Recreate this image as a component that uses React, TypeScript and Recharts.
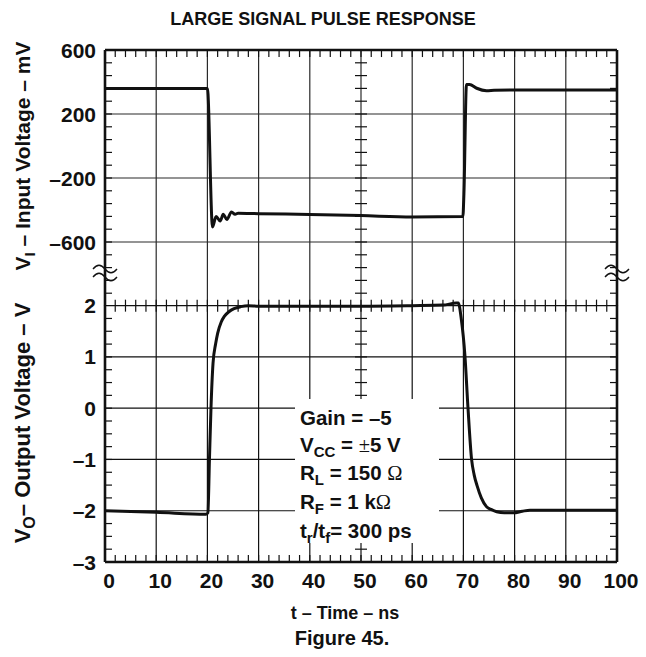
import { LineChart, Line, XAxis, YAxis, ReferenceLine } from 'recharts';

// input pulse (top panel), mV
const inputTime = [0, 20.0, 21.0, 21.7, 22.5, 23.1, 23.8, 24.7, 25.4, 26.0, 30, 40, 50, 60, 69.9, 70.1, 70.6, 71.2, 72.6, 74.5, 76, 80, 90, 100];
const inputMv = [360, 360, -506, -440, -469, -427, -460, -412, -427, -420, -423, -428, -435, -443, -441, -300, 385, 385, 361, 346, 348, 350, 350, 350];

// output pulse (bottom panel), V
const outputTime = [0, 10, 19.7, 20.1, 20.4, 20.7, 21.1, 21.6, 22.0, 22.7, 23.3, 24.2, 25.2, 26.5, 28, 30, 40, 50, 60, 66, 68.6, 69.0, 69.6, 70.3, 70.9, 71.6, 72.1, 72.7, 73.5, 74.5, 75.5, 76.5, 78, 79.8, 81.5, 83, 90, 100];
const outputV = [-2.0, -2.03, -2.07, -2.04, -1.0, 0.0, 0.88, 1.25, 1.46, 1.68, 1.79, 1.88, 1.94, 1.98, 2.0, 1.99, 1.99, 1.99, 2.0, 2.01, 2.05, 2.05, 1.73, 1.02, 0.0, -1.0, -1.3, -1.52, -1.75, -1.92, -1.98, -2.02, -2.04, -2.04, -2.01, -1.99, -1.99, -1.99];

const timeTicks = [0, 10, 20, 30, 40, 50, 60, 70, 80, 90, 100];
const inputTicks = [600, 200, -200, -600];
const outputTicks = [2, 1, 0, -1, -2, -3];

const inputData = inputTime.map((t, i) => ({ t, v: inputMv[i] }));
const outputData = outputTime.map((t, i) => ({ t, v: outputV[i] }));

// minor tick positions
const timeMinor: number[] = [];
for (let k = 1; k < 50; k++) timeMinor.push(k * 2);
const mvMinor: number[] = [];
for (let k = 1; k < 20; k++) mvMinor.push(600 - k * 80);
const vMinor: number[] = [];
for (let k = 1; k < 20; k++) vMinor.push(2 - k * 0.25);

const FONT = '"Liberation Sans", Arial, Helvetica, sans-serif';
const INK = '#111';
const GRID = '#2a2a2a';

// tick lengths in data units (about 7 px)
const T7 = 1.37;
const T6 = 1.17;
const MV7 = 44;
const V7 = 0.137;
const V6 = 0.117;

const dash = (v: number) => (v < 0 ? '\u2013' + Math.abs(v) : String(v));

function YTick({ x, y, payload }: any) {
    return (
        <text x={x} y={y} dy={7.5} textAnchor="end" fontFamily={FONT} fontWeight={700} fontSize={21} fill={INK}>
            {dash(payload.value)}
        </text>
    );
}

function XTick({ x, y, payload }: any) {
    return (
        <text x={x + 4} y={y} dy={14} textAnchor="middle" fontFamily={FONT} fontWeight={700} fontSize={21} fill={INK}>
            {payload.value}
        </text>
    );
}

function seg(key: string, x1: number, y1: number, x2: number, y2: number, w = 1.2) {
    return (
        <ReferenceLine
            key={key}
            segment={[{ x: x1, y: y1 }, { x: x2, y: y2 }]}
            stroke={INK}
            strokeWidth={w}
            ifOverflow="visible"
        />
    );
}

function Sub({ children }: any) {
    return <span style={{ fontSize: 15, position: 'relative', top: 5 }}>{children}</span>;
}

const sym = { fontFamily: '"Liberation Serif", "Times New Roman", serif', fontWeight: 400 };

export default function App() {
    return (
        <div style={{ position: 'absolute', left: 0, top: 0, width: 646, height: 657, background: '#fff' }}>
            <div style={{ position: 'absolute', left: 0, top: 0 }}>
                <LineChart width={646} height={310} data={inputData} margin={{ top: 50, right: 29, bottom: 4, left: 0 }}>
                    <XAxis dataKey="t" type="number" domain={[0, 100]} allowDataOverflow hide />
                    <YAxis
                        type="number"
                        domain={[-1000, 600]}
                        allowDataOverflow
                        ticks={inputTicks}
                        width={105}
                        tickSize={7}
                        tickMargin={2}
                        tickLine={false}
                        axisLine={false}
                        tick={<YTick />}
                        interval={0}
                    />
                    {timeTicks.slice(1, -1).map(t => (
                        <ReferenceLine key={'gx' + t} x={t} stroke={GRID} strokeWidth={1.2} />
                    ))}
                    {[200, -200, -600].map(v => (
                        <ReferenceLine key={'gy' + v} y={v} stroke={GRID} strokeWidth={1.2} />
                    ))}
                    {timeMinor.map(t => seg('tt' + t, t, 600, t, 600 - MV7))}
                    {mvMinor.map(v => seg('tl' + v, 0, v, T7, v))}
                    {mvMinor.map(v => seg('tr' + v, 100 - T7, v, 100, v))}
                    {mvMinor.map(v => seg('tc' + v, 50 - T6, v, 50 + T6, v))}
                    {seg('bl', 0, 600, 0, -1000, 2.6)}
                    {seg('br', 100, 600, 100, -1000, 2.6)}
                    {seg('bt', 0, 600, 100, 600, 2.6)}
                    <Line
                        type="monotone"
                        dataKey="v"
                        stroke={INK}
                        strokeWidth={3}
                        dot={false}
                        isAnimationActive={false}
                    />
                </LineChart>
            </div>
            <div style={{ position: 'absolute', left: 0, top: 0 }}>
                <LineChart width={646} height={657} data={outputData} margin={{ top: 280, right: 29, bottom: 65, left: 0 }}>
                    <XAxis
                        dataKey="t"
                        type="number"
                        domain={[0, 100]}
                        allowDataOverflow
                        ticks={timeTicks}
                        interval={0}
                        height={30}
                        tickSize={6}
                        tickMargin={6}
                        tickLine={false}
                        axisLine={false}
                        tick={<XTick />}
                    />
                    <YAxis
                        type="number"
                        domain={[-3, 2.5]}
                        allowDataOverflow
                        ticks={outputTicks}
                        width={105}
                        tickSize={7}
                        tickMargin={2}
                        tickLine={false}
                        axisLine={false}
                        tick={<YTick />}
                        interval={0}
                    />
                    {timeTicks.slice(1, -1).map(t => seg('gx' + t, t, -3, t, 2, 1.2))}
                    {[2, 1, 0, -1, -2].map(v => seg('gy' + v, 0, v, 100, v, 1.2))}
                    {timeMinor.map(t => seg('tm' + t, t, 2 + V6, t, 2 - V6))}
                    {timeMinor.map(t => seg('tb' + t, t, -3, t, -3 + V7))}
                    {vMinor.map(v => seg('tl' + v, 0, v, T7, v))}
                    {vMinor.map(v => seg('tr' + v, 100 - T7, v, 100, v))}
                    {vMinor.map(v => seg('tc' + v, 50 - T6, v, 50 + T6, v))}
                    {seg('bl', 0, 2, 0, -3, 2.6)}
                    {seg('br', 100, 2, 100, -3, 2.6)}
                    {seg('bb', 0, -3, 100, -3, 2.6)}
                    <Line
                        type="monotone"
                        dataKey="v"
                        stroke={INK}
                        strokeWidth={3}
                        dot={false}
                        isAnimationActive={false}
                    />
                </LineChart>
            </div>

            <div
                style={{
                    position: 'absolute',
                    left: 295,
                    top: 399,
                    width: 144,
                    height: 144,
                    background: '#fff',
                    boxSizing: 'border-box',
                    paddingTop: 6,
                    paddingLeft: 5,
                    fontFamily: FONT,
                    fontWeight: 700,
                    fontSize: 20.5,
                    lineHeight: '26.7px',
                    color: INK,
                    whiteSpace: 'nowrap',
                }}
            >
                <div>Gain = –5</div>
                <div>V<Sub>CC</Sub> = <span style={sym}>±</span>5 V</div>
                <div>R<Sub>L</Sub> = 150 <span style={sym}>Ω</span></div>
                <div>R<Sub>F</Sub> = 1 k<span style={sym}>Ω</span></div>
                <div>t<Sub>r</Sub>/t<Sub>f</Sub>= 300 ps</div>
            </div>

            <svg width={646} height={657} style={{ position: 'absolute', left: 0, top: 0, pointerEvents: 'none' }}>
                <g fontFamily={FONT} fontWeight={700} fill={INK}>
                    <text x={323} y={25} textAnchor="middle" fontSize={18}>LARGE SIGNAL PULSE RESPONSE</text>
                    <text x={345} y={619} textAnchor="middle" fontSize={18}>t – Time – ns</text>
                    <text x={342} y={645} textAnchor="middle" fontSize={20}>Figure 45.</text>
                    <text transform="translate(30,156) rotate(-90)" textAnchor="middle" fontSize={21}>
                        V<tspan fontSize={15} dy={5}>I</tspan>
                        <tspan dy={-5}> – Input Voltage – mV</tspan>
                    </text>
                    <text transform="translate(30,423) rotate(-90)" textAnchor="middle" fontSize={22}>
                        V<tspan fontSize={16} dy={5}>O</tspan>
                        <tspan dy={-5}>– Output Voltage – V</tspan>
                    </text>
                </g>
                <g fill="none" stroke={INK} strokeWidth={1.3}>
                    <path d="M93,269 c4,-5 8,-5 12,0 s8,5 12,0" />
                    <path d="M93,277 c4,-5 8,-5 12,0 s8,5 12,0" />
                    <path d="M605,269 c4,-5 8,-5 12,0 s8,5 12,0" />
                    <path d="M605,277 c4,-5 8,-5 12,0 s8,5 12,0" />
                </g>
            </svg>
        </div>
    );
}
